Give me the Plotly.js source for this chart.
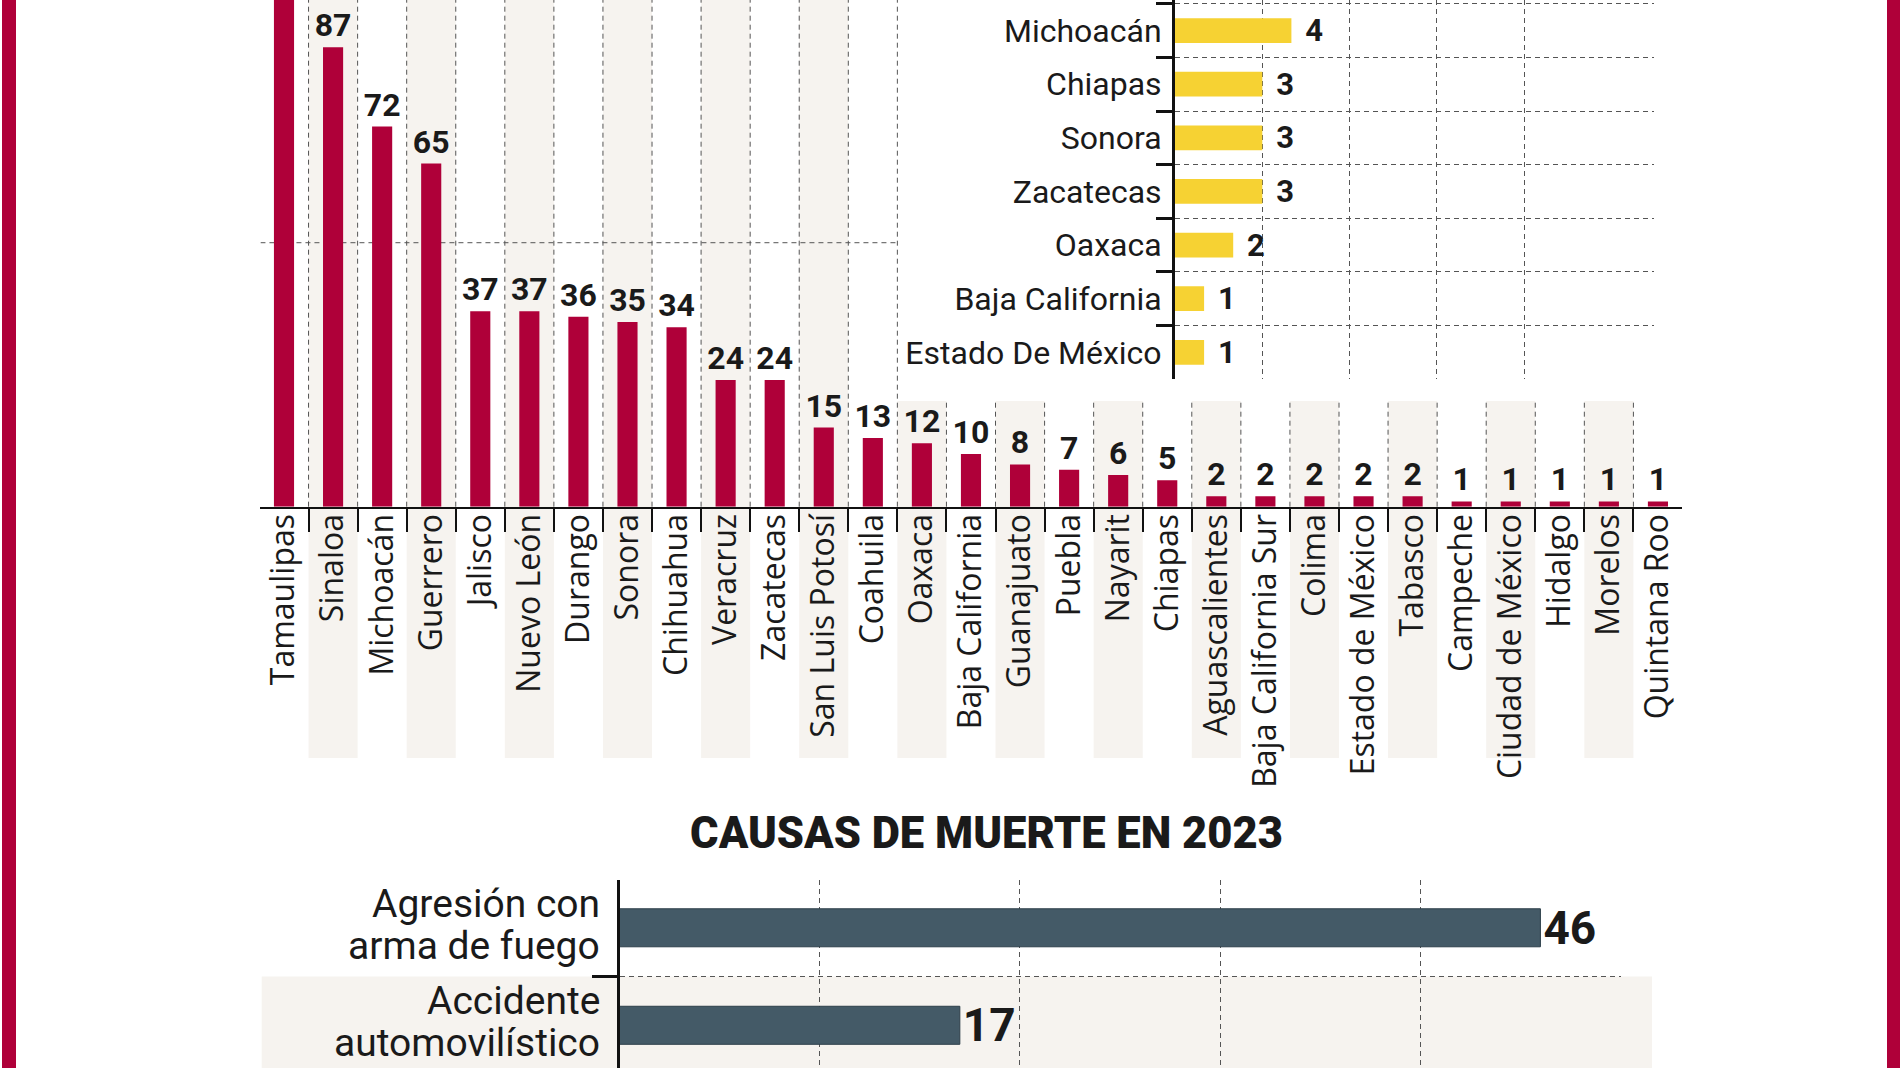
<!DOCTYPE html>
<html><head><meta charset="utf-8">
<script src="https://cdn.plot.ly/plotly-3.0.1.min.js"></script>
<style>html,body{margin:0;padding:0;background:#fff;overflow:hidden}#chart{width:1900px;height:1068px}</style>
</head><body><div id="chart"></div>
<script>
// ---- data ----
const estados = ['Tamaulipas','Sinaloa','Michoacán','Guerrero','Jalisco','Nuevo León','Durango','Sonora','Chihuahua','Veracruz','Zacatecas','San Luis Potosí','Coahuila','Oaxaca','Baja California','Guanajuato','Puebla','Nayarit','Chiapas','Aguascalientes','Baja California Sur','Colima','Estado de México','Tabasco','Campeche','Ciudad de México','Hidalgo','Morelos','Quintana Roo'];
const muertes = [110,87,72,65,37,37,36,35,34,24,24,15,13,12,10,8,7,6,5,2,2,2,2,2,1,1,1,1,1];
const insetEstados = ['Michoacán','Chiapas','Sonora','Zacatecas','Oaxaca','Baja California','Estado De México'];
const insetValores = [4,3,3,3,2,1,1];
const causas = ['Agresión con<br>arma de fuego','Accidente<br>automovilístico'];
const causasValores = [46,17];
const tituloCausas = 'CAUSAS DE MUERTE EN 2023';

// ---- geometry helpers ----
const W = 1900, H = 1068;
const px = x => x / W;
const py = y => 1 - y / H;

const RED = '#af0039', YELLOW = '#f6d233', SLATE = '#445a67', BAND = '#f6f3ef';
const GRID = '#555555', DASH = '5px,4px';
const NUMFONT = 'Roboto, "Liberation Sans", sans-serif';
const Y_TOP = 95.97; // value shown at the top edge of the main chart

const shapes = [];
// red side stripes
shapes.push({type:'rect', xref:'paper', yref:'paper', x0:px(2), x1:px(16), y0:0, y1:1, fillcolor:RED, line:{width:0}, layer:'below'});
shapes.push({type:'rect', xref:'paper', yref:'paper', x0:px(1887), x1:1, y0:0, y1:1, fillcolor:RED, line:{width:0}, layer:'below'});
// alternating bands for the main chart
const insetSplit = 12.5; // boundary where the inset box begins
estados.forEach((e, i) => {
  if (i % 2 === 1) {
    shapes.push({type:'rect', xref:'x', yref:'paper', x0:i-0.5, x1:i+0.5,
      y0:py(758), y1: (i < insetSplit ? 1 : py(401)), fillcolor:BAND, line:{width:0}, layer:'below'});
  }
});
// vertical dashed separators
for (let i = 0; i < estados.length - 1; i++) {
  const b = i + 0.5;
  shapes.push({type:'line', xref:'x', yref:'paper', x0:b, x1:b, y0:py(506.7),
    y1: (b <= insetSplit ? 1 : py(401)), line:{color:GRID, width:1, dash:DASH}, layer:'below'});
}
// horizontal gridline at 50 (left part only)
shapes.push({type:'line', xref:'x', yref:'y', x0:-0.48, x1:insetSplit, y0:50, y1:50,
  line:{color:GRID, width:1, dash:DASH}, layer:'below'});
// bottom chart band for 2nd category
shapes.push({type:'rect', xref:'paper', yref:'y3', x0:px(261.7), x1:px(1652), y0:0.5, y1:1.6,
  fillcolor:BAND, line:{width:0}, layer:'below'});

// category labels of the bottom chart, one annotation per line (tighter line spacing)
const annotations = [];
const LINE_GAP = 42.4;
causas.forEach((c, i) => {
  const lines = c.split('<br>');
  lines.forEach((t, j) => {
    annotations.push({xref:'paper', x:px(602), xanchor:'right', yref:'y3', y:c, yanchor:'middle',
      yshift: ((lines.length - 1) / 2 - j) * LINE_GAP + 3, text:t, showarrow:false,
      font:{family:'Roboto, sans-serif', size:39, color:'#1a1a1a'}});
  });
});

const traces = [
  {type:'bar', x:estados, y:muertes, xaxis:'x', yaxis:'y', width:0.41,
   marker:{color:RED}, text:muertes.map(v => v > Y_TOP ? '' : String(v)), textposition:'outside', textangle:0,
   constraintext:'none', cliponaxis:true,
   outsidetextfont:{family:NUMFONT, size:32, weight:700, color:'#1a1a1a'}, hoverinfo:'skip'},
  {type:'bar', orientation:'h', y:insetEstados, x:insetValores, xaxis:'x2', yaxis:'y2', width:0.46,
   marker:{color:YELLOW}, texttemplate:'\u00a0\u200a%{x}', textposition:'outside', textangle:0,
   constraintext:'none', cliponaxis:false,
   outsidetextfont:{family:NUMFONT, size:31, weight:700, color:'#1a1a1a'}, hoverinfo:'skip'},
  {type:'bar', orientation:'h', y:causas, x:causasValores, xaxis:'x3', yaxis:'y3', width:0.39,
   marker:{color:SLATE, line:{color:'#2d3f4a', width:1}}, text:causasValores.map(String),
   textposition:'outside', textangle:0, constraintext:'none', cliponaxis:false,
   outsidetextfont:{family:NUMFONT, size:46, weight:700, color:'#1a1a1a'}, hoverinfo:'skip'}
];

const layout = {
  width:W, height:H, margin:{l:0,r:0,t:0,b:0,pad:0},
  paper_bgcolor:'#ffffff', plot_bgcolor:'rgba(0,0,0,0)', showlegend:false,
  font:{family:'Roboto, sans-serif', color:'#1a1a1a'},
  title:{text:tituloCausas, x:px(986.5), xanchor:'center', y:py(833), yanchor:'middle',
    font:{family:'Roboto, sans-serif', size:43.5, weight:900, color:'#1a1a1a'}},
  xaxis:{domain:[px(260.45), px(1681.5)], type:'category', categoryarray:estados, categoryorder:'array',
    range:[-0.48, 28.48], tickmode:'linear', tick0:0, dtick:1,
    showline:true, linecolor:'#111', linewidth:2.5, ticks:'outside', tickson:'boundaries',
    ticklen:23, tickwidth:2, tickcolor:'#111', tickangle:-90, ticklabelstandoff:-8,
    tickfont:{family:'"Open Sans", "Noto Sans", sans-serif', size:32, color:'#1a1a1a'},
    showgrid:false, zeroline:false, fixedrange:true},
  yaxis:{domain:[py(506.7), 1], range:[0, Y_TOP], showgrid:false, showticklabels:false,
    zeroline:false, showline:false, ticks:'', fixedrange:true},
  xaxis2:{domain:[px(1175), px(1654)], anchor:'y2', range:[0, 16.46], tickmode:'array', tickvals:[3,6,9,12],
    showticklabels:false, ticks:'', showgrid:true, gridcolor:GRID, gridwidth:1, griddash:DASH,
    zeroline:false, showline:false, fixedrange:true},
  yaxis2:{domain:[py(378.6), 1], anchor:'x2', type:'category', categoryarray:insetEstados, categoryorder:'array',
    range:[6.49, -0.57], showline:true, linecolor:'#111', linewidth:3, ticks:'outside', tickson:'boundaries',
    ticklen:16, tickwidth:3, tickcolor:'#111', showgrid:true, gridcolor:GRID, gridwidth:1, griddash:DASH,
    ticklabelstandoff:4, tickfont:{family:'Roboto, sans-serif', size:32, color:'#1a1a1a'},
    zeroline:false, fixedrange:true},
  xaxis3:{domain:[px(619.5), px(1620.5)], anchor:'y3', range:[0, 50], tickmode:'array', tickvals:[10,20,30,40],
    showticklabels:false, ticks:'', showgrid:true, gridcolor:GRID, gridwidth:1, griddash:DASH,
    zeroline:false, showline:false, fixedrange:true},
  yaxis3:{domain:[0, py(880)], anchor:'x3', type:'category', categoryarray:causas, categoryorder:'array',
    range:[1.438, -0.49], showline:true, linecolor:'#111', linewidth:2.5, ticks:'outside', tickson:'boundaries',
    ticklen:25, tickwidth:3, tickcolor:'#111', showgrid:true, gridcolor:GRID, gridwidth:1, griddash:DASH,
    showticklabels:false, zeroline:false, fixedrange:true},
  shapes:shapes,
  annotations:annotations
};

Plotly.newPlot('chart', traces, layout, {staticPlot:true, displayModeBar:false});
</script>
</body></html>
